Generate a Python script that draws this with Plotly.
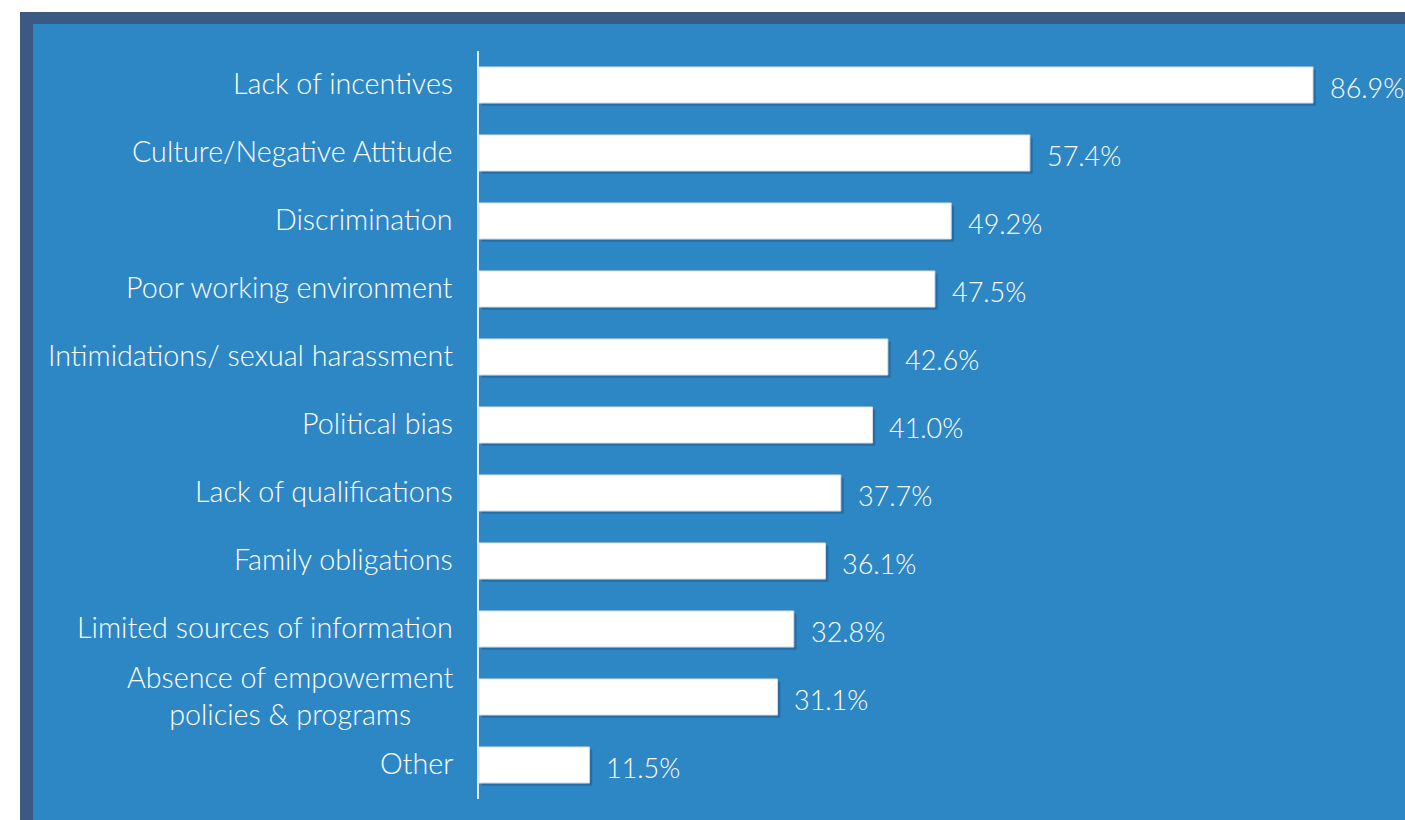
import plotly.graph_objects as go

categories = [
    "Lack of incentives",
    "Culture/Negative Attitude",
    "Discrimination",
    "Poor working environment",
    "Intimidations/ sexual harassment",
    "Political bias",
    "Lack of qualifications",
    "Family obligations",
    "Limited sources of information",
    "Absence of empowerment<br>policies & programs",
    "Other",
]
values = [86.9, 57.4, 49.2, 47.5, 42.6, 41.0, 37.7, 36.1, 32.8, 31.1, 11.5]
value_labels = ["86.9%", "57.4%", "49.2%", "47.5%", "42.6%", "41.0%", "37.7%", "36.1%", "32.8%", "31.1%", "11.5%"]

FONT = "Lato"
PANEL = "#2e87c5"
BORDER = "#3a5a84"

W, H = 1405, 820
ML, MR, MT, MB = 479, 0, 51, 21
pw = W - ML - MR
ph = H - MT - MB


def px_to_paper_x(px):
    return (px - ML) / pw


def px_to_paper_y(py):
    return (H - MB - py) / ph


fig = go.Figure()

# shadow
fig.add_trace(go.Bar(
    y=categories, x=values, orientation="h", base=0.3,
    marker=dict(color="rgba(20,50,90,0.30)", line=dict(width=0)),
    width=0.53, offset=-0.225, hoverinfo="skip", showlegend=False,
))
fig.add_trace(go.Bar(
    y=categories, x=values, orientation="h",
    marker=dict(color="white", line=dict(color="#d8dde3", width=1)),
    width=0.53, offset=-0.265, showlegend=False,
))

annotations = []
for c, v, t in zip(categories, values, value_labels):
    annotations.append(dict(
        x=v, y=c, xref="x", yref="y", text=t, showarrow=False,
        xanchor="left", yanchor="middle", xshift=15, yshift=-2,
        font=dict(family=FONT, size=27, color="white", weight=300),
    ))
    annotations.append(dict(
        x=0, y=c, xref="paper", yref="y", text=c, showarrow=False,
        xanchor="right", yanchor="middle", xshift=-24, yshift=2,
        align="center",
        font=dict(family=FONT, size=28.7, color="white", weight=300),
    ))

shapes = [
    dict(type="rect", xref="paper", yref="paper", layer="below",
         x0=px_to_paper_x(20), x1=px_to_paper_x(W + 20),
         y0=px_to_paper_y(H + 20), y1=px_to_paper_y(12),
         fillcolor=BORDER, line=dict(width=0)),
    dict(type="rect", xref="paper", yref="paper", layer="below",
         x0=px_to_paper_x(33), x1=px_to_paper_x(W + 20),
         y0=px_to_paper_y(H + 20), y1=px_to_paper_y(24),
         fillcolor=PANEL, line=dict(width=0)),
]

fig.update_layout(
    width=W, height=H,
    margin=dict(l=ML, r=MR, t=MT, b=MB),
    paper_bgcolor="white",
    plot_bgcolor="rgba(0,0,0,0)",
    barmode="overlay",
    showlegend=False,
    xaxis=dict(range=[0, pw / 9.597], visible=False, fixedrange=True),
    yaxis=dict(
        autorange="reversed", showticklabels=False, ticks="",
        showgrid=False, zeroline=False,
        showline=True, linecolor="#e6e9ee", linewidth=2,
    ),
    shapes=shapes,
    annotations=annotations,
    font=dict(family=FONT),
)

fig.write_html("out.html")
